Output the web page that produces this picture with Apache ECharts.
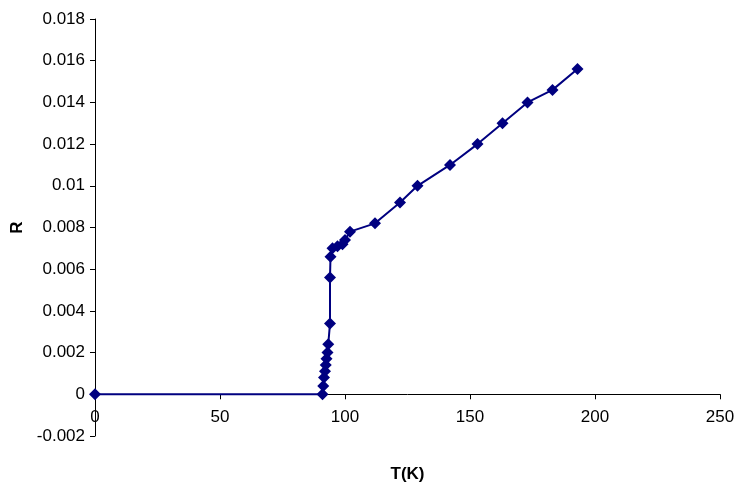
<!DOCTYPE html><html><head><meta charset="utf-8"><script src="https://cdn.jsdelivr.net/npm/echarts@6/dist/echarts.min.js"></script></head><body style="margin:0"><div id="c" style="width:741px;height:486px"></div><script>
const T=[0,91,91.3,91.6,92,92.3,92.6,93,93.3,94,94,94.2,95,97,99,100,102,112,122,129,142,153,163,173,183,193];
const R=[0,0,0.0004,0.0008,0.0011,0.0014,0.0017,0.002,0.0024,0.0034,0.0056,0.0066,0.007,0.0071,0.0072,0.0074,0.0078,0.0082,0.0092,0.01,0.011,0.012,0.013,0.014,0.0146,0.0156];
const c=echarts.init(document.getElementById('c'));
const f={fontFamily:'Liberation Sans',fontSize:17,color:'#000'};
c.setOption({animation:false,grid:{left:95,right:21,top:19,bottom:50,outerBoundsMode:'none',containLabel:false},
xAxis:{type:'value',min:0,max:250,interval:50,name:'T(K)',nameLocation:'middle',nameGap:30,nameTextStyle:{...f,fontWeight:'bold'},axisLine:{onZero:true,lineStyle:{color:'#000'}},axisTick:{length:5,lineStyle:{color:'#000'}},axisLabel:{...f,margin:-27},splitLine:{show:false}},
yAxis:{type:'value',min:-0.002,max:0.018,interval:0.002,name:'R',nameLocation:'middle',nameGap:66,nameTextStyle:{...f,fontWeight:'bold'},axisLine:{show:true,lineStyle:{color:'#000'}},axisTick:{show:true,length:5,lineStyle:{color:'#000'}},axisLabel:{...f,margin:10,formatter:v=>String(+v.toFixed(3))},splitLine:{show:false}},
series:[{type:'line',data:T.map((t,i)=>[t,R[i]]),symbol:'diamond',symbolSize:12,lineStyle:{color:'#000080',width:2},itemStyle:{color:'#000080'}}]});
</script></body></html>
